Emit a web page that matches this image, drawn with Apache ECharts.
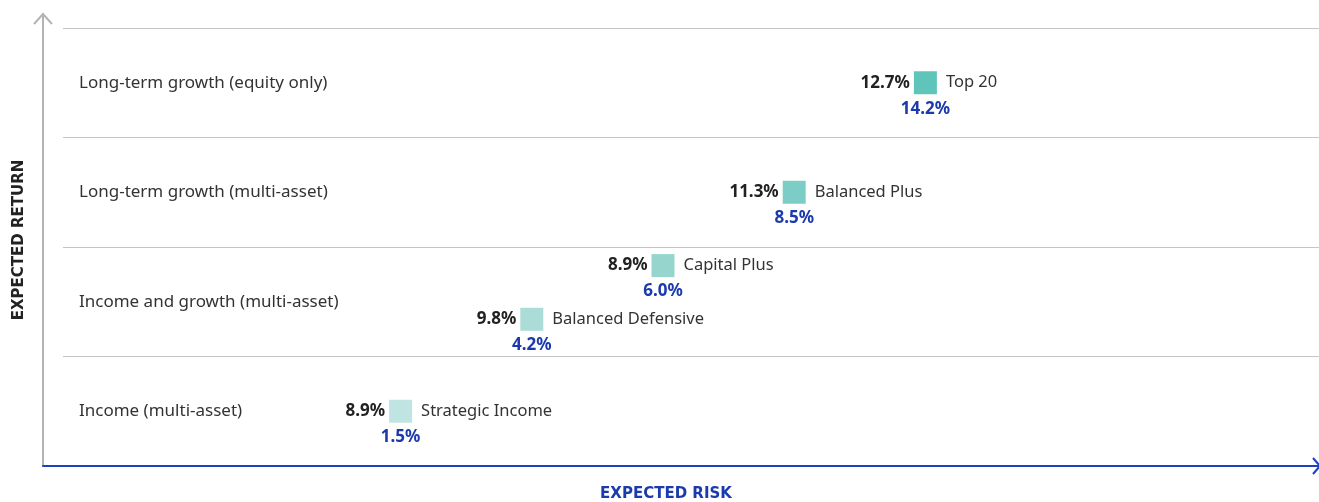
<!DOCTYPE html>
<html><head><meta charset="utf-8">
<script src="https://cdn.jsdelivr.net/npm/echarts@6/dist/echarts.min.js"></script>
<style>html,body{margin:0;padding:0;background:#fff}#c{width:1319px;height:502px}</style>
</head><body><div id="c"></div>
<script>
// Row categories (bottom to top)
const categories = ['Income (multi-asset)', 'Income and growth (multi-asset)', 'Long-term growth (multi-asset)', 'Long-term growth (equity only)'];
// Portfolios
const funds = ['Strategic Income', 'Balanced Defensive', 'Capital Plus', 'Balanced Plus', 'Top 20'];
const riskRank = [1, 2, 3, 4, 5];               // schematic position along expected risk
const returnLevel = [0.5, 1.34, 1.83, 2.5, 3.5]; // vertical position (row band units)
const expectedReturn = ['8.9%', '9.8%', '8.9%', '11.3%', '12.7%'];
const expectedRisk = ['1.5%', '4.2%', '6.0%', '8.5%', '14.2%'];
const colors = ['#c0e4e1', '#abdcd8', '#95d5ce', '#7ccdc5', '#5fc4ba'];

const FONT = '"Noto Sans", "Open Sans", sans-serif';
const pts = funds.map((f, i) => ({ name: f, value: [riskRank[i], returnLevel[i]], ret: expectedReturn[i], risk: expectedRisk[i], itemStyle: { color: colors[i], opacity: 1 } }));
const ptsT = funds.map((f, i) => ({ name: f, value: [riskRank[i], returnLevel[i]], ret: expectedReturn[i], risk: expectedRisk[i] }));

const chart = echarts.init(document.getElementById('c'), null, { renderer: 'canvas' });
chart.setOption({
  animation: false,
  backgroundColor: '#fff',
  textStyle: { fontFamily: FONT },
  grid: [
    { left: 43, right: 0, top: 14, bottom: 36, outerBoundsMode: 'none', containLabel: false },
    { left: 63, right: 0, top: 28, bottom: 36, outerBoundsMode: 'none', containLabel: false }
  ],
  xAxis: [
    { gridIndex: 0, type: 'value', min: 0, max: 1, axisLine: { show: true, onZero: false, lineStyle: { color: '#1e3fbf', width: 2 } },
      axisTick: { show: false }, axisLabel: { show: false }, splitLine: { show: false },
      name: 'EXPECTED RISK', nameLocation: 'middle', nameGap: 21,
      nameTextStyle: { color: '#1a3aad', fontWeight: 'bold', fontSize: 15, fontFamily: '"DejaVu Sans", sans-serif', padding: [0, 30, 0, 0] } },
    { gridIndex: 1, type: 'value', min: -1.573, max: 8, show: false }
  ],
  yAxis: [
    { gridIndex: 0, type: 'value', min: 0, max: 1, axisLine: { show: true, onZero: false, lineStyle: { color: '#b4b4b4', width: 2 } },
      axisTick: { show: false }, axisLabel: { show: false }, splitLine: { show: false },
      name: 'EXPECTED RETURN', nameLocation: 'middle', nameGap: 16, nameRotate: 90,
      nameTextStyle: { color: '#222', fontWeight: 'bold', fontSize: 15, fontFamily: '"DejaVu Sans", sans-serif' } },
    { gridIndex: 1, type: 'category', data: categories, boundaryGap: true,
      axisLine: { show: false }, axisTick: { show: false },
      axisLabel: { inside: true, align: 'left', margin: 16, color: '#333', fontSize: 17, fontFamily: FONT, padding: [6, 0, 0, 0] },
      splitLine: { show: true, lineStyle: { color: '#c4c4c4', width: 1 } } },
    { gridIndex: 1, type: 'value', min: 0, max: 4, show: false }
  ],
  graphic: [
    { type: 'polyline', shape: { points: [[34, 24], [43, 14], [52, 24]] }, style: { stroke: '#b4b4b4', lineWidth: 2, fill: null } },
    { type: 'polyline', shape: { points: [[1313, 458], [1320, 466], [1313, 474]] }, style: { stroke: '#1e3fbf', lineWidth: 2, fill: null } }
  ],
  series: [
    { type: 'scatter', xAxisIndex: 1, yAxisIndex: 2, symbol: 'rect', symbolSize: 23, data: pts, z: 3,
      itemStyle: { opacity: 1 },
      label: { show: true, position: 'right', distance: 9, formatter: p => p.name, color: '#333', fontSize: 16.5, fontFamily: FONT } },
    { type: 'scatter', xAxisIndex: 1, yAxisIndex: 2, symbol: 'rect', symbolSize: 23, data: ptsT, z: 2, silent: true,
      itemStyle: { color: 'transparent', opacity: 1 },
      label: { show: true, position: 'left', distance: 4, formatter: p => p.data.ret, color: '#222', fontWeight: 'bold', fontSize: 17, fontFamily: FONT } },
    { type: 'scatter', xAxisIndex: 1, yAxisIndex: 2, symbol: 'rect', symbolSize: 23, data: ptsT, z: 2, silent: true,
      itemStyle: { color: 'transparent', opacity: 1 },
      label: { show: true, position: 'bottom', distance: 6, formatter: p => p.data.risk, color: '#1a3aad', fontWeight: 'bold', fontSize: 17, fontFamily: FONT } }
  ]
});
</script></body></html>
